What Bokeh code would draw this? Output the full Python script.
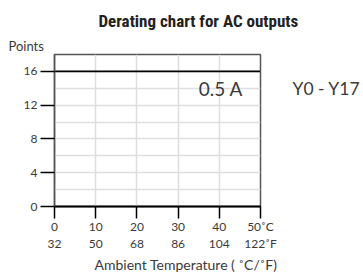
from bokeh.plotting import figure
from bokeh.models import LinearAxis, FixedTicker, Label, Range1d, Title
from bokeh.embed import file_html
from bokeh.resources import INLINE

# data
temps_c = [0, 50]
points = [16, 16]
c_ticks = [0, 10, 20, 30, 40, 50]
f_labels = ["32", "50", "68", "86", "104", "122˚F"]
c_labels = ["0", "10", "20", "30", "40", "50˚C"]
y_ticks = [0, 4, 8, 12, 16]
y_grid = [2, 4, 6, 8, 10, 12, 14, 16]
x_grid = [10, 20, 30, 40]
rating_text = "0.5 A"
rating_pos = (35, 14)
outputs_text = "Y0 - Y17"
outputs_y = 14

TXT = "#3a3a3a"
FONT = "Lato"

p = figure(width=363, height=272, output_backend="svg", toolbar_location=None,
           x_range=Range1d(0, 50), y_range=Range1d(0, 18),
           min_border_left=54, min_border_right=103, min_border_top=54, min_border_bottom=65,
           x_axis_location=None, y_axis_location=None)
p.outline_line_color = "#555555"
p.outline_line_width = 1.5
p.background_fill_color = "white"
p.border_fill_color = "white"

p.xgrid.ticker = FixedTicker(ticks=x_grid)
p.ygrid.ticker = FixedTicker(ticks=y_grid)
for g in (p.xgrid, p.ygrid):
    g.grid_line_color = "#dedede"
    g.grid_line_width = 1.5

def plain(ax):
    ax.major_tick_in = 0
    ax.minor_tick_out = 0
    ax.minor_tick_in = 0
    ax.major_label_text_font = FONT
    ax.major_label_text_font_size = "12px"
    ax.major_label_text_color = TXT

ya = LinearAxis(ticker=FixedTicker(ticks=y_ticks))
plain(ya)
ya.major_tick_out = 14
ya.major_tick_line_color = "black"
ya.major_tick_line_width = 1.5
ya.axis_line_color = "#555555"
ya.axis_line_width = 1.5
ya.major_label_standoff = 3
p.add_layout(ya, "left")

ra = LinearAxis(ticker=FixedTicker(ticks=[outputs_y]))
plain(ra)
ra.major_label_overrides = {outputs_y: outputs_text}
ra.major_tick_out = 0
ra.major_tick_line_color = None
ra.axis_line_color = None
ra.major_label_standoff = 32
ra.major_label_text_font_size = "17.5px"
p.add_layout(ra, "right")

xa = LinearAxis(ticker=FixedTicker(ticks=c_ticks))
plain(xa)
xa.major_label_overrides = {t: l for t, l in zip(c_ticks, c_labels)}
xa.major_tick_out = 12
xa.major_tick_line_color = "black"
xa.major_tick_line_width = 1.5
xa.axis_line_color = "black"
xa.axis_line_width = 2
xa.major_label_standoff = 0
p.add_layout(xa, "below")

fa = LinearAxis(ticker=FixedTicker(ticks=c_ticks))
plain(fa)
fa.major_label_overrides = {t: l for t, l in zip(c_ticks, f_labels)}
fa.major_tick_out = 0
fa.major_tick_line_color = None
fa.axis_line_color = None
fa.major_label_standoff = -1
p.add_layout(fa, "below")

p.add_layout(Title(text="Ambient Temperature ( ˚C/˚F)", align="left", offset=40,
                   standoff=0, text_font=FONT, text_font_size="14px",
                   text_font_style="normal", text_color=TXT), "below")

p.add_layout(Title(text="Points", align="left", offset=-46, standoff=2,
                   text_font=FONT, text_font_size="13px", text_font_style="normal",
                   text_color=TXT), "above")
p.add_layout(Title(text="Derating chart for AC outputs", align="left", offset=44,
                   standoff=8, text_font="Roboto Condensed", text_font_size="17px",
                   text_font_style="bold", text_color="#222222"), "above")

p.line(temps_c, points, line_color="black", line_width=1.8)

p.add_layout(Label(x=rating_pos[0], y=rating_pos[1], text=rating_text,
                   text_align="left", text_baseline="middle",
                   text_font=FONT, text_font_size="19px", text_color=TXT))

open("out.html", "w").write(file_html(p, INLINE))
